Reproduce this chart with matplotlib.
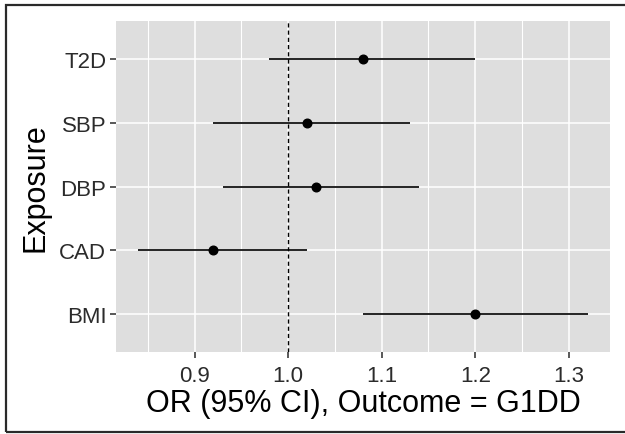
import matplotlib.pyplot as plt
from matplotlib.patches import Rectangle
from matplotlib.ticker import MultipleLocator

# forest plot data (bottom to top)
exposures = ['BMI', 'CAD', 'DBP', 'SBP', 'T2D']
odds_ratio = [1.20, 0.92, 1.03, 1.02, 1.08]
ci_lower = [1.08, 0.84, 0.93, 0.92, 0.98]
ci_upper = [1.32, 1.02, 1.14, 1.13, 1.20]
x_ticks = [0.9, 1.0, 1.1, 1.2, 1.3]

plt.rcParams['font.family'] = ['Liberation Sans', 'DejaVu Sans']

fig = plt.figure(figsize=(6.25, 4.35), dpi=100)
ax = fig.add_axes([0.1856, 0.1885, 0.7904, 0.7605])

ax.set_facecolor('#DEDEDE')
for s in ax.spines.values():
    s.set_visible(False)

ypos = list(range(1, len(exposures) + 1))

# grid
ax.xaxis.set_minor_locator(MultipleLocator(0.05))
ax.grid(True, which='major', color='white', linewidth=1.1)
ax.grid(True, which='minor', axis='x', color='white', linewidth=0.8)
ax.set_axisbelow(True)

ax.axvline(1.0, color='black', linestyle=(0, (3, 2.2)), linewidth=1.0, zorder=2)
ax.hlines(ypos, ci_lower, ci_upper, color='black', linewidth=1.2, zorder=3)
ax.plot(odds_ratio, ypos, 'o', color='black', markersize=6.2, zorder=4)

xmin, xmax = min(ci_lower), max(ci_upper)
pad = (xmax - xmin) * 0.05
ax.set_xlim(xmin - pad, xmax + pad)
ax.set_ylim(0.4, len(exposures) + 0.6)

ax.set_xticks(x_ticks)
ax.set_xticklabels([f'{v:.1f}' for v in x_ticks])
ax.set_yticks(ypos)
ax.set_yticklabels(exposures)
ax.tick_params(axis='both', which='major', labelsize=16, colors='#2B2B2B',
               length=4, width=1.1, pad=3)
ax.tick_params(axis='x', which='major', pad=5)
ax.tick_params(axis='x', which='minor', length=0)

ax.set_xlabel('OR (95% CI), Outcome = G1DD', fontsize=22, labelpad=2)
ax.set_ylabel('Exposure', fontsize=22, labelpad=6)

# frame around the whole figure
fig.patches.append(Rectangle((0.0096, 0.004), 1.2, 0.982, transform=fig.transFigure,
                             fill=False, edgecolor='#2A2A2A', linewidth=1.6))

fig.savefig('out.png', dpi=100)
